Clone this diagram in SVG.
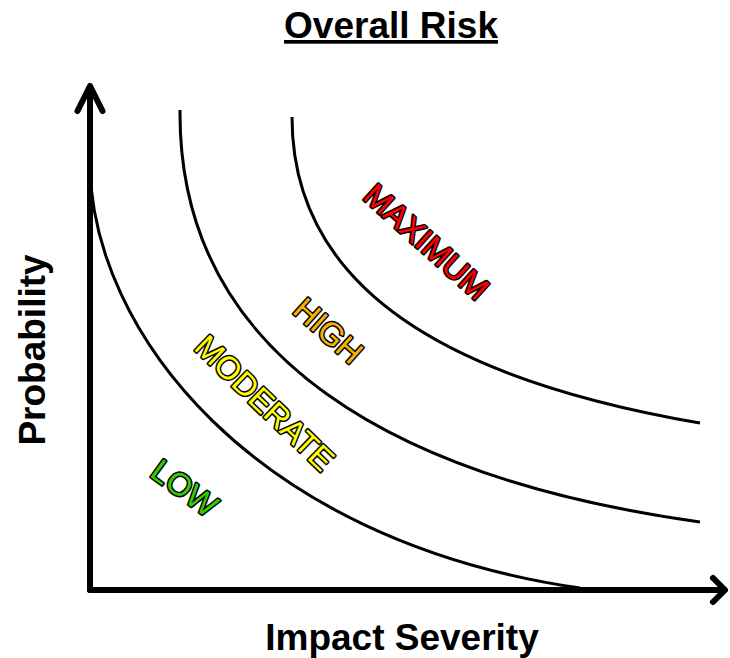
<svg xmlns="http://www.w3.org/2000/svg" width="730" height="658" viewBox="0 0 730 658">
<style>
.t{font-family:"Liberation Sans",Arial,sans-serif;font-weight:bold;font-size:37px;fill:#000}
.lbl{font-family:"Liberation Sans",Arial,sans-serif;font-size:32px;stroke:#000;stroke-width:3;stroke-linejoin:round;paint-order:stroke;text-anchor:middle}
.axis{fill:none;stroke:#000;stroke-width:6;stroke-linecap:round;stroke-linejoin:round}
.curve{fill:none;stroke:#000;stroke-width:3}
</style>
<rect width="730" height="658" fill="#fff"/>
<g id="title"><text class="t" x="391" y="38" text-anchor="middle" text-decoration="underline">Overall Risk</text></g>
<g id="xlabel"><text class="t" x="402" y="650" text-anchor="middle">Impact Severity</text></g>
<g id="ylabel"><text class="t" transform="translate(45,350) rotate(-90)" text-anchor="middle">Probability</text></g>
<g id="connectors">
<path class="curve" d="M90,165 C92,330 250,540 580,588"/>
<path class="curve" d="M180,110 C178,360 400,480 700,522"/>
<path class="curve" d="M292,117 C292,290 450,380 700,423"/>
<line class="axis" x1="90" y1="590" x2="90" y2="88"/>
<polyline class="axis" points="77.5,111 90,86 102.5,111"/>
<line class="axis" x1="90" y1="590" x2="723" y2="590"/>
<polyline class="axis" points="713,578 725,590 713,602"/>
</g>
<g id="low"><text class="lbl" fill="#33cc00" transform="translate(178,497) rotate(36)">LOW</text></g>
<g id="moderate"><text class="lbl" fill="#ffff00" transform="translate(257,411) rotate(44)">MODERATE</text></g>
<g id="high"><text class="lbl" fill="#f5b000" transform="translate(321,339) rotate(42)">HIGH</text></g>
<g id="maximum"><text class="lbl" fill="#ff0000" transform="translate(419,250) rotate(42)">MAXIMUM</text></g>
</svg>
